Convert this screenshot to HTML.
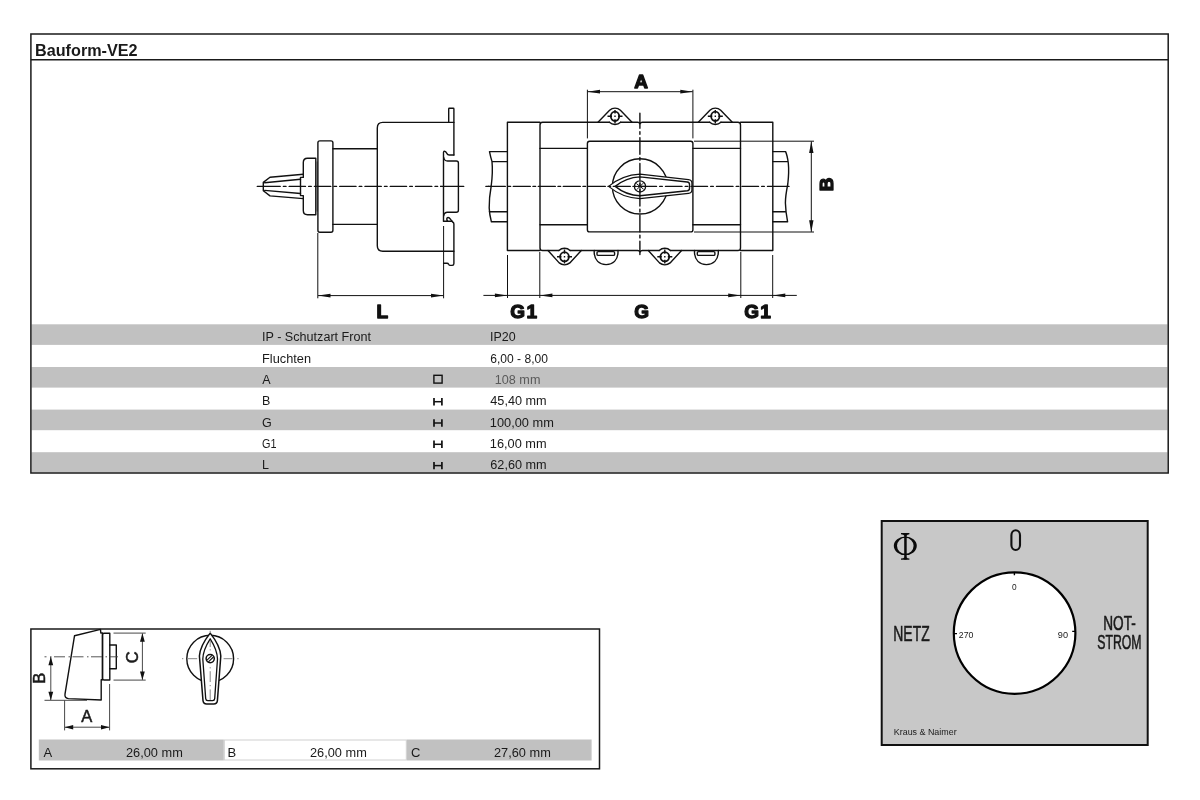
<!DOCTYPE html>
<html lang="de">
<head>
<meta charset="utf-8">
<title>Bauform-VE2</title>
<style>
html,body{margin:0;padding:0;background:#fff;}
body{width:1200px;height:800px;overflow:hidden;position:relative;font-family:"Liberation Sans",sans-serif;}
svg{position:absolute;left:0;top:0;display:block;will-change:transform;}
text{font-family:"Liberation Sans",sans-serif;fill:#1a1a1a;}
.t{font-size:12.5px;}
.ln{fill:none;stroke:#111;stroke-width:1.4;stroke-linecap:round;stroke-linejoin:round;}
.thin{fill:none;stroke:#111;stroke-width:1;}
.cl{fill:none;stroke:#111;stroke-width:1;stroke-dasharray:11 2.5 2 2.5;}
.blk{font-weight:bold;font-size:19px;fill:#111;stroke:#111;stroke-width:1.3;stroke-linejoin:round;}
.ar{fill:#111;stroke:none;}
</style>
</head>
<body>
<svg width="1200" height="800" viewBox="0 0 1200 800">
<!-- ===== top box frame + table ===== -->
<g id="topbox">
<rect x="31.5" y="324.3" width="1136" height="20.6" fill="#c1c1c1"/>
<rect x="31.5" y="367" width="1136" height="20.6" fill="#c1c1c1"/>
<rect x="31.5" y="409.6" width="1136" height="20.6" fill="#c1c1c1"/>
<rect x="31.5" y="452.2" width="1136" height="20.3" fill="#c1c1c1"/>
<rect x="30.9" y="34" width="1137.3" height="439" fill="none" stroke="#1a1a1a" stroke-width="1.5"/>
<line x1="30.9" y1="59.7" x2="1168" y2="59.7" stroke="#1a1a1a" stroke-width="1.5"/>
<text x="35" y="55.6" font-size="16.2" font-weight="bold" textLength="102.6" lengthAdjust="spacingAndGlyphs">Bauform-VE2</text>
</g>
<!-- ===== table text ===== -->
<g id="tabletext" class="t">
<text x="262" y="341.4" textLength="109" lengthAdjust="spacingAndGlyphs">IP - Schutzart Front</text>
<text x="262" y="362.6" textLength="49" lengthAdjust="spacingAndGlyphs">Fluchten</text>
<text x="262.2" y="383.9">A</text>
<text x="262" y="405.2">B</text>
<text x="262" y="426.5">G</text>
<text x="262" y="447.8" textLength="14.5" lengthAdjust="spacingAndGlyphs">G1</text>
<text x="262" y="469.2">L</text>
<text x="490" y="341.4" textLength="25.6" lengthAdjust="spacingAndGlyphs">IP20</text>
<text x="490.3" y="362.6" textLength="57.6" lengthAdjust="spacingAndGlyphs">6,00 - 8,00</text>
<text x="494.8" y="383.9" textLength="45.6" lengthAdjust="spacingAndGlyphs" style="fill:#5a5a5a">108 mm</text>
<text x="490.3" y="405.2" textLength="56.4" lengthAdjust="spacingAndGlyphs">45,40 mm</text>
<text x="489.8" y="426.5" textLength="64" lengthAdjust="spacingAndGlyphs">100,00 mm</text>
<text x="489.8" y="447.8" textLength="56.8" lengthAdjust="spacingAndGlyphs">16,00 mm</text>
<text x="490.3" y="469.2" textLength="56.4" lengthAdjust="spacingAndGlyphs">62,60 mm</text>
</g>
<!-- icons -->
<g id="icons" fill="none" stroke="#111">
<rect x="433.9" y="375.3" width="8.2" height="7.8" stroke-width="1.4"/>
<g stroke-width="1.7"><path d="M434 398v7.4M441.9 398v7.4"/><path d="M434 401.7h7.9" stroke-width="1.5"/></g>
<g stroke-width="1.7"><path d="M434 419.3v7.4M441.9 419.3v7.4"/><path d="M434 423h7.9" stroke-width="1.5"/></g>
<g stroke-width="1.7"><path d="M434 440.6v7.4M441.9 440.6v7.4"/><path d="M434 444.3h7.9" stroke-width="1.5"/></g>
<g stroke-width="1.7"><path d="M434 461.9v7.4M441.9 461.9v7.4"/><path d="M434 465.6h7.9" stroke-width="1.5"/></g>
</g>
<!-- ===== side view ===== -->
<g id="sideview">
<!-- handle tip -->
<path class="ln" d="M303.3 174.2L270 177.2L263.3 182.4V190.7L270 195.9L303.3 198.6"/>
<path class="ln" d="M264.6 182.7L300.5 179.3M264.6 190.4L300.5 193.5" stroke-width="1.1"/>
<!-- hub -->
<path class="ln" d="M315.8 158.3H307.5Q303.3 158.3 303.3 162.5V177.4H300.5V195.6H303.3V210.5Q303.3 214.7 307.5 214.7H315.8Z"/>
<path d="M316.9 161.5V211.5" stroke="#666" stroke-width="1.6" fill="none"/>
<!-- flange -->
<path class="ln" d="M319.8 140.9H331Q332.9 140.9 332.9 142.8V230.3Q332.9 232.2 331 232.2H319.8Q317.9 232.2 317.9 230.3V142.8Q317.9 140.9 319.8 140.9Z"/>
<!-- neck -->
<path class="ln" d="M332.9 148.7H377.3M332.9 224.4H377.3"/>
<!-- body -->
<path class="ln" d="M453.9 155V122.4H382.8Q377.3 122.4 377.3 127.9V245.7Q377.3 251.2 382.8 251.2H453.9"/>
<!-- top tab -->
<path class="ln" d="M448.7 122.4V108.9Q448.7 108.3 449.3 108.3H453.3Q453.9 108.3 453.9 108.9V122.4"/>
<!-- upper hook -->
<path class="ln" d="M453.9 155H449.2Q447.6 155 447 153.6Q445.6 150.8 443.9 151.4Q443.3 151.8 443.5 154V221"/>
<!-- boss -->
<path class="ln" d="M443.7 157.5Q444.3 161 447.5 161H456.3Q458.4 161 458.4 163V210.2Q458.4 212.2 456.3 212.2H447.5Q444.3 212.2 443.7 215.5" stroke-width="1"/>
<!-- lower hook -->
<path class="ln" d="M443.5 221.3H447.6Q446 218.6 447.6 217.6Q449 217 450.6 219.4L452.6 222Q453.9 222.6 453.9 224V263.6Q453.9 265.4 452.2 265.4H450.2Q449.2 265.4 448.6 264.2Q448.2 263.2 447 263.2H443.6"/>
<path class="ln" d="M447.6 221.3H452" stroke-width="0.9"/>
<!-- centre line -->
<path class="ln" d="M257.3 186.4H264M440.6 186.4H463.7" stroke-linecap="butt"/>
<path class="ln" d="M263.9 186.4H441" stroke-dasharray="16.3 3.2 2.6 3.17" stroke-linecap="butt"/>
<!-- L dimension -->
<path class="thin" d="M317.8 233V298.3M443.6 226V298.3M318 295.6H443.5"/>
<path class="ar" d="M318 295.6L330.5 293.7V297.5ZM443.5 295.6L431 293.7V297.5Z"/>
<text class="blk" x="376.6" y="318.2">L</text>
</g>

<!-- ===== front view ===== -->
<g id="frontview">
<!-- outer housing -->
<path class="ln" d="M540 122.3H507.4V250.5H540M740.5 122.3H772.8V250.5H740.5"/>
<!-- inner housing -->
<path class="ln" d="M609.4 122.3H542.6Q540 122.3 540 124.9V247.9Q540 250.5 542.6 250.5H558.9M570.1 250.5H637.6Q639.4 250.6 640 252Q640.6 250.6 642.4 250.5H659.2M670.4 250.5H737.9Q740.5 250.5 740.5 247.9V124.9Q740.5 122.3 737.9 122.3H720.9M709.7 122.3H642.4Q640.6 122.4 640 123.8Q639.4 122.4 637.6 122.3H620.6"/>
<path class="ln" d="M540 148.4H587.4M692.9 148.4H740.5M540 224.7H587.4M692.9 224.7H740.5"/>
<!-- centre plate -->
<rect class="ln" x="587.4" y="141.2" width="105.5" height="90.7" rx="2.2"/>
<!-- shafts -->
<path class="ln" d="M507.4 151.6H489.5Q490.6 157 492 161.6Q493 172 491.2 186Q489 198 489.2 208Q489.4 214 491.4 221.8H507.4M492 161.6H507.4M489.3 211.7H507.4" stroke-width="1.3"/>
<path class="ln" d="M772.8 151.6H785.6Q787.2 155 788.3 163Q789.2 172 787.8 184Q785.4 196 785.4 203Q785.6 211 787.6 221.8H772.8M772.8 161.6H788.1M772.8 211.7H785.7" stroke-width="1.3"/>
<!-- top ears -->
<g id="earT">
<path class="ln" d="M598 122.3L609.6 110.2A8.1 8.1 0 0 1 620.4 110.2L632 122.3M609.4 122.3A8.1 8.1 0 0 0 620.6 122.3"/>
<ellipse cx="615" cy="116.3" rx="4.2" ry="4.7" fill="none" stroke="#111" stroke-width="1.8"/>
<path d="M607.5 116.3H612M618 116.3H622.5M615 110V113.4M615 119.2V123.6M614.3 116.3H615.7" stroke="#111" stroke-width="1.4" fill="none"/>
</g>
<g transform="translate(100.3 0)">
<path class="ln" d="M598 122.3L609.6 110.2A8.1 8.1 0 0 1 620.4 110.2L632 122.3M609.4 122.3A8.1 8.1 0 0 0 620.6 122.3"/>
<ellipse cx="615" cy="116.3" rx="4.2" ry="4.7" fill="none" stroke="#111" stroke-width="1.8"/>
<path d="M607.5 116.3H612M618 116.3H622.5M615 110V113.4M615 119.2V123.6M614.3 116.3H615.7" stroke="#111" stroke-width="1.4" fill="none"/>
</g>
<!-- bottom ears -->
<g id="earB">
<path class="ln" d="M548 250.5L559.2 262.9A8.1 8.1 0 0 0 569.8 262.9L581.3 250.5M558.9 250.5A8.1 8.1 0 0 1 570.1 250.5"/>
<ellipse cx="564.5" cy="256.8" rx="4.4" ry="4.6" fill="none" stroke="#111" stroke-width="1.8"/>
<path d="M557 256.8H561.5M567.5 256.8H572M564.5 249.6V253.8M564.5 259.8V263.6M563.8 256.8H565.2" stroke="#111" stroke-width="1.4" fill="none"/>
</g>
<g transform="translate(100.3 0)">
<path class="ln" d="M548 250.5L559.2 262.9A8.1 8.1 0 0 0 569.8 262.9L581.3 250.5M558.9 250.5A8.1 8.1 0 0 1 570.1 250.5"/>
<ellipse cx="564.5" cy="256.8" rx="4.4" ry="4.6" fill="none" stroke="#111" stroke-width="1.8"/>
<path d="M557 256.8H561.5M567.5 256.8H572M564.5 249.6V253.8M564.5 259.8V263.6M563.8 256.8H565.2" stroke="#111" stroke-width="1.4" fill="none"/>
</g>
<!-- D clips -->
<g id="dclip">
<path class="ln" d="M594.2 250.5V252.6C594.6 260 599 264.6 606.1 264.6C613.2 264.6 617.6 260 618 252.6V250.5"/>
<rect class="ln" x="597" y="251.6" width="17.6" height="3.8" rx="1.2"/>
</g>
<g transform="translate(100.3 0)">
<path class="ln" d="M594.2 250.5V252.6C594.6 260 599 264.6 606.1 264.6C613.2 264.6 617.6 260 618 252.6V250.5"/>
<rect class="ln" x="597" y="251.6" width="17.6" height="3.8" rx="1.2"/>
</g>
<!-- knob -->
<circle class="ln" cx="640" cy="186.4" r="27.6"/>
<path d="M608.6 186.4Q622 175 640 174.1L688.5 179.6Q691.9 180 691.9 183V189.9Q691.9 192.9 688.5 193.3L640 198.6Q622 197.8 608.6 186.4Z" fill="#fff" stroke="#111" stroke-width="1.2" stroke-linejoin="round"/>
<path class="ln" d="M615.2 186.4Q626 177.6 640 176.9L687.3 182Q689.5 182.3 689.5 184.3V188.5Q689.5 190.5 687.3 190.8L640 195.8Q626 195.2 615.2 186.4Z" stroke-width="1.1"/>
<circle cx="640" cy="186.4" r="5.6" fill="#fff" stroke="#111" stroke-width="1.3"/>
<path d="M636.4 183.6L643.6 189.2M636.8 189.6L643.2 183.2M640 181.4V191.4M635 186.4H645" stroke="#111" stroke-width="1" fill="none"/>
<!-- centre lines -->
<path class="ln" d="M485.9 186.4H489M789 186.4H767.5" stroke-linecap="butt"/>
<path class="ln" d="M488.3 186.4H640" stroke-dasharray="17 2.7 2.6 2.7" stroke-linecap="butt"/>
<path class="ln" d="M767.5 186.4H640" stroke-dasharray="16.5 3.2 2.6 3.2" stroke-dashoffset="16.5" stroke-linecap="butt"/>
<path class="ln" d="M639.9 113.3V254.6" stroke-dasharray="16.6 3.3 2.7 3.3" stroke-dashoffset="1.6" stroke-linecap="butt"/>
<!-- A dimension -->
<path class="thin" d="M587.4 89.7V138.4M692.9 89.7V138.4M587.6 91.7H692.7"/>
<path class="ar" d="M587.5 91.7L600 89.8V93.6ZM692.8 91.7L680.3 89.8V93.6Z"/>
<text class="blk" x="634.2" y="88.3">A</text>
<!-- B dimension -->
<path class="thin" d="M694 141.2H814M694 232H814M811.3 141.4V231.8"/>
<path class="ar" d="M811.3 141.3L809.1 153H813.5ZM811.3 231.9L809.1 220.2H813.5Z"/>
<text class="blk" transform="translate(833.3 191.3) rotate(-90)">B</text>
<!-- G dimensions -->
<path class="thin" d="M507.5 255V298M539.8 252V298M740.8 252V298M772.7 255V298M483.4 295.4H796.8"/>
<path class="ar" d="M507.4 295.4L494.9 293.5V297.3ZM539.9 295.4L552.4 293.5V297.3ZM740.7 295.4L728.2 293.5V297.3ZM772.8 295.4L785.3 293.5V297.3Z"/>
<text class="blk" x="510.3" y="318.2">G</text><text class="blk" x="526.4" y="318.2">1</text>
<text class="blk" x="634.2" y="318.2">G</text>
<text class="blk" x="744.2" y="318.2">G</text><text class="blk" x="760.3" y="318.2">1</text>
</g>

<!-- ===== small box (handle) ===== -->
<g id="smallbox">
<rect x="38.8" y="739.5" width="185" height="21" fill="#c1c1c1"/>
<rect x="224.3" y="740" width="182" height="20" fill="#fff" stroke="#d0d0d0" stroke-width="1"/>
<rect x="406.8" y="739.5" width="184.8" height="21" fill="#c1c1c1"/>
<rect x="30.9" y="629" width="568.6" height="139.8" fill="none" stroke="#1a1a1a" stroke-width="1.5"/>
<g class="t" font-size="13">
<text x="43.6" y="757" font-size="13">A</text>
<text x="126" y="757" font-size="13" textLength="56.8" lengthAdjust="spacingAndGlyphs">26,00 mm</text>
<text x="227.6" y="757" font-size="13">B</text>
<text x="310" y="757" font-size="13" textLength="56.8" lengthAdjust="spacingAndGlyphs">26,00 mm</text>
<text x="411" y="757" font-size="13">C</text>
<text x="494" y="757" font-size="13" textLength="56.8" lengthAdjust="spacingAndGlyphs">27,60 mm</text>
</g>
<!-- handle side -->
<path class="ln" d="M74.5 635.8L100.5 629.4L100.8 633H102.5V679.8H101.2V700L68.5 698.6Q64.4 698.2 65 694.2Z" stroke-width="1.3"/>
<path class="ln" d="M104 633.2H109.8V680H104Q102.5 680 102.5 678.5V634.7Q102.5 633.2 104 633.2Z" stroke-width="1.3"/>
<path class="ln" d="M109.8 645H116.3V668.7H109.8" stroke-width="1.2"/>
<path d="M44.5 656.8H118" fill="none" stroke="#444" stroke-width="0.9" stroke-dasharray="11 3.5 1.5 2.5" stroke-dashoffset="9"/>
<!-- dims -->
<g fill="none" stroke="#333" stroke-width="0.9">
<path d="M50.8 657V700M44.5 700.3H87M64.6 700.5V730.4M109.6 684V730.4M65 727.2H109.2M113.5 633.1H145.7M113.5 680.1H145.7M142.4 633.5V679.8"/>
</g>
<path class="ar" d="M50.8 656.8L48.4 665.3H53.2ZM50.8 700.2L48.4 691.7H53.2ZM64.7 727.2L73.2 724.9V729.5ZM109.5 727.2L101 724.9V729.5ZM142.4 633.2L140 641.7H144.8ZM142.4 680L140 671.5H144.8Z"/>
<text font-size="16.5" x="81.3" y="722.4" style="stroke:#1a1a1a;stroke-width:0.5">A</text>
<text font-size="16.5" transform="translate(45.2 683.8) rotate(-90)" style="stroke:#1a1a1a;stroke-width:0.5">B</text>
<text font-size="16.5" transform="translate(138.2 663.2) rotate(-90)" style="stroke:#1a1a1a;stroke-width:0.5">C</text>
<!-- handle front -->
<circle class="ln" cx="210.2" cy="658.7" r="23.4" stroke-width="1.3"/>
<path d="M210.2 633.1Q200 646 199.4 656L203 700.6Q203.4 704 206.6 704H213.8Q217 704 217.4 700.6L220.8 656Q220.4 646 210.2 633.1Z" fill="#fff" stroke="#111" stroke-width="1.5" stroke-linejoin="round"/>
<path d="M210.2 638.8Q203 650 202.8 659L205.7 698.6Q205.9 700.6 207.8 700.6H212.6Q214.5 700.6 214.7 698.6L217.5 659Q217.3 650 210.2 638.8Z" fill="none" stroke="#111" stroke-width="1.3" stroke-linejoin="round"/>
<circle cx="210.2" cy="658.6" r="4.1" fill="#fff" stroke="#111" stroke-width="1.5"/>
<path d="M207 660.2L212 655.4M208.4 661.8L213.4 657" stroke="#111" stroke-width="1.1" fill="none"/>
<g fill="none" stroke="#777" stroke-width="0.9">
<path d="M182 658.7H183.3M188 658.7H197.2M223.6 658.7H232.6M237.3 658.7H238.6"/>
<path d="M210.2 630.8V632M210.2 640.6V647M210.2 649.2V650.4M210.2 667.2V668.4M210.2 671.2V682M210.2 685V686.2M210.2 689.4V700"/>
</g>
</g>

<!-- ===== legend plate ===== -->
<g id="plate">
<rect x="881.7" y="521" width="266" height="224" fill="#c8c8c8" stroke="#111" stroke-width="2"/>
<circle cx="1014.6" cy="633.1" r="60.8" fill="#fff" stroke="#000" stroke-width="2.2"/>
<path d="M1014.4 572V575.2M953.8 633.6H957M1075.4 631.4H1072.2" stroke="#000" stroke-width="1.4" fill="none"/>
<!-- phi -->
<g fill="#0a0a0a" stroke="none">
<path fill-rule="evenodd" d="M893.8 545.8A11.5 9.3 0 1 0 916.8 545.8A11.5 9.3 0 1 0 893.8 545.8ZM897 545.8A8.3 8 0 1 1 913.6 545.8A8.3 8 0 1 1 897 545.8Z"/>
<rect x="904.2" y="533.2" width="2.5" height="26.4"/>
<path d="M901 533H909.4V534.2Q907.2 534.4 906.7 535.4H904.2Q903.7 534.4 901 534.2ZM901 559.8H909.4V558.6Q907.2 558.4 906.7 557.4H904.2Q903.7 558.4 901 558.6Z"/>
</g>
<!-- big 0 -->
<rect x="1011.4" y="530.2" width="8.6" height="19.8" rx="4.3" ry="5" fill="none" stroke="#111" stroke-width="2.1"/>
<g style="font-size:8.3px">
<text x="1011.9" y="589.6" font-size="8.3">0</text>
<text x="958.8" y="638" font-size="8.3" textLength="14.6" lengthAdjust="spacingAndGlyphs">270</text>
<text x="1057.8" y="638" font-size="8.3" textLength="10.2" lengthAdjust="spacingAndGlyphs">90</text>
<text x="893.8" y="735" font-size="8.4" textLength="62.8" lengthAdjust="spacingAndGlyphs">Kraus &amp; Naimer</text>
</g>
<g style="stroke:#1a1a1a;stroke-width:0.55"><text x="893.3" y="640.9" font-size="22.6" textLength="36.4" lengthAdjust="spacingAndGlyphs">NETZ</text>
<text x="1103.3" y="630" font-size="19.4" textLength="32.5" lengthAdjust="spacingAndGlyphs">NOT-</text>
<text x="1097.2" y="649.2" font-size="19.4" textLength="44.4" lengthAdjust="spacingAndGlyphs">STROM</text></g>
</g>

</svg>
</body>
</html>
